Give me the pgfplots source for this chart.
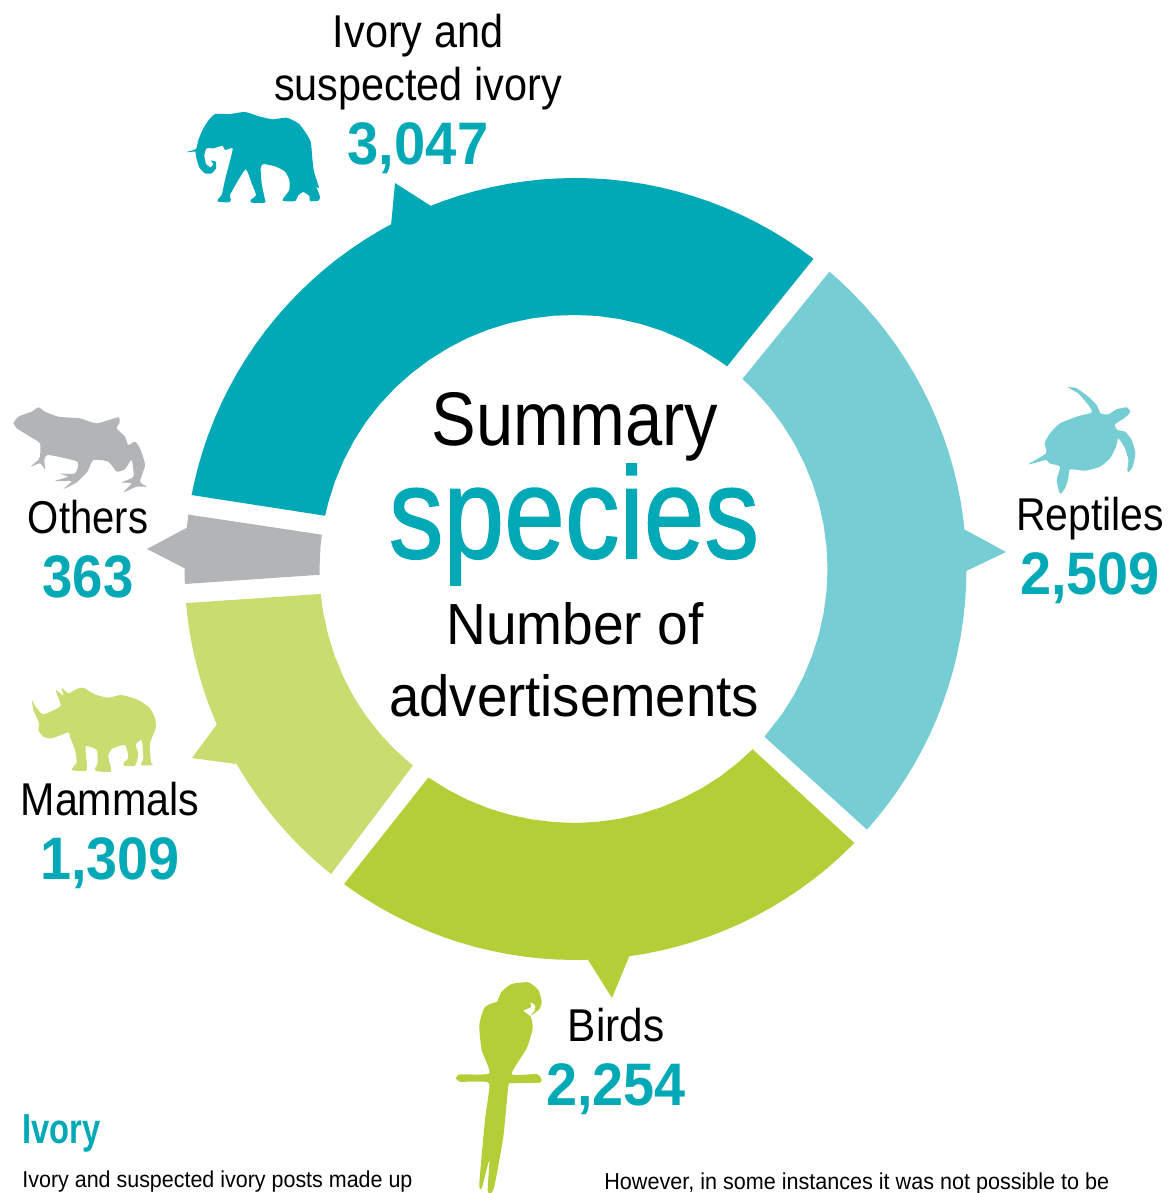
\documentclass[border=0pt]{standalone}
\usepackage{graphicx}
\usepackage{fontspec}
\setmainfont{Liberation Sans}
\newfontfamily\med[FakeBold=1.2]{Liberation Sans}
\usepackage{pgfplots}
\pgfplotsset{compat=1.18}
\definecolor{cIvory}{HTML}{00A9B5}
\definecolor{cRept}{HTML}{76CDD3}
\definecolor{cBird}{HTML}{B3CE37}
\definecolor{cMamm}{HTML}{C9DC70}
\definecolor{cOther}{HTML}{B3B4B6}
\newcommand{\T}[3]{\scalebox{#2}[1]{\fontsize{#1}{#1}\selectfont #3}}
\newcommand{\M}[3]{\scalebox{#2}[1]{\fontsize{#1}{#1}\selectfont\med #3}}
\newcommand{\B}[3]{\scalebox{#2}[1]{\fontsize{#1}{#1}\selectfont\bfseries #3}}
\pgfplotsset{
  base/.style={hide axis, at={(0,0)}, anchor=south west, scale only axis, width=584.5pt, height=596.5pt, clip=false},
  sec/.style={fill=#1, draw=none, no markers, data cs=polar},
  sil/.style n args={3}{fill=#1, draw=none, no markers, smooth, tension=0.35,
     x filter/.expression={x/3+#2}, y filter/.expression={y/3+#3}},
  tri/.style={fill=#1, draw=none, no markers}
}
\begin{document}
\begin{tikzpicture}
\path[use as bounding box, clip] (0,0) rectangle (584.5pt,596.5pt);
% ring, centred on the origin of this axis
\begin{axis}[base, xmin=-575.5, xmax=593.5, ymin=-624, ymax=569]
\addplot[sec=cIvory] coordinates {(169.1,391)(167.5,391)(165,391)(162.5,391)(160,391)(157.5,391)(155,391)(152.5,391)(150,391)(147.5,391)(145,391)(142.5,391)(140,391)(137.5,391)(135,391)(132.5,391)(130,391)(127.5,391)(125,391)(122.5,391)(120,391)(117.5,391)(115,391)(112.5,391)(110,391)(107.5,391)(105,391)(102.5,391)(100,391)(97.5,391)(95,391)(92.5,391)(90,391)(87.5,391)(85,391)(82.5,391)(80,391)(77.5,391)(75,391)(72.5,391)(70,391)(67.5,391)(65,391)(62.5,391)(60,391)(57.5,391)(55,391)(52.5,391)
 (53.2,253)(55,253)(60,253)(65,253.2)(70,253.4)(75,253.6)(80,253.8)(85,254)(90,254)(95,254.2)(100,254.4)(105,254.6)(110,254.8)(115,255)(120,255)(125,255.2)(130,255.4)(135,255.6)(140,255.8)(145,256)(150,256)(155,256)(160,256)(165,256)(168,256)};
\addplot[sec=cRept] coordinates {(49.5,391)(47.5,391)(45,391)(42.5,391)(40,391)(37.5,391)(35,391)(32.5,391)(30,391)(27.5,391)(25,391)(22.5,391)(20,391)(17.5,391)(15,391)(12.5,391)(10,391)(7.5,391)(5,391)(2.5,391)(0,391)(-2.5,391)(-5,391)(-7.5,391)(-10,391)(-12.5,391)(-15,391)(-17.5,391)(-20,391)(-22.5,391)(-25,391)(-27.5,391)(-30,391)(-32.5,391)(-35,391)(-37.5,391)(-40,391)(-41.8,391)
 (-41.6,252.6)(-35,252.4)(-30,252.2)(-25,252)(-20,252)(-15,252)(-10,252)(-5,252)(0,252)(5,252)(10,252)(15,252)(20,252)(25,252)(30,252.2)(35,252.4)(40,252.6)(45,252.8)(48.7,253)};
\addplot[sec=cBird] coordinates {(-44.5,391)(-47.5,391)(-50,391)(-52.5,391)(-55,391)(-57.5,391)(-60,391)(-62.5,391)(-65,391)(-67.5,391)(-70,391)(-72.5,391)(-75,391)(-77.5,391)(-80,391)(-82.5,391)(-85,391)(-87.5,391)(-90,391)(-92.5,391)(-95,391)(-97.5,391)(-100,391)(-102.5,391)(-105,391)(-107.5,391)(-110,391)(-112.5,391)(-115,391)(-117.5,391)(-120,391)(-122.5,391)(-125,391)(-126.3,391)
 (-125.2,255.2)(-120,255)(-115,254.8)(-110,254.6)(-105,254.4)(-100,254.2)(-95,254)(-90,254)(-85,253.8)(-80,253.6)(-75,253.4)(-70,253.2)(-65,253)(-60,253)(-55,252.9)(-50,252.8)(-45.5,252.7)};
\addplot[sec=cMamm] coordinates {(-128.7,391)(-130,391)(-132.5,391)(-135,391)(-137.5,391)(-140,391)(-142.5,391)(-145,391)(-147.5,391)(-150,391)(-152.5,391)(-155,391)(-157.5,391)(-160,391)(-162.5,391)(-165,391)(-167.5,391)(-170,391)(-172.5,391)(-175,391)
 (-174.4,256)(-170,256)(-165,256)(-160,256)(-155,256)(-150,256)(-145,255.8)(-140,255.6)(-135,255.4)(-129.6,255.2)};
\addplot[sec=cOther] coordinates {(-177.8,391)(-180,391)(-182.5,391)(-185,391)(-188,391)(-187.7,256)(-185,256)(-180,256)(-178.7,256)};
\end{axis}
% pointers, silhouettes and text, in the picture's pixels
\begin{axis}[base, xmin=0, xmax=1169, ymin=0, ymax=1193, y dir=reverse]
\addplot[tri=cIvory] coordinates {(391,226)(395,183)(431,206)(420,225)};
\addplot[tri=cRept] coordinates {(960,527)(1006,552)(960,574)};
\addplot[tri=cBird] coordinates {(585,955)(612,998)(631,952)};
\addplot[tri=cMamm] coordinates {(220,720)(192,758)(236,764)};
\addplot[tri=cOther] coordinates {(190,526)(147,549)(190,571)};
% elephant
\addplot[sil={cIvory}{170}{90}] coordinates {(52,185)(78,177)(85,150)(100,115)(118,88)(136,72)(180,72)(225,66)(270,80)(310,88)(350,83)(385,100)(405,125)(422,155)(427,205)(432,245)(447,293)(438,290)(445,305)(450,322)(445,332)(420,333)(418,318)(400,306)(385,316)(375,333)(340,333)(340,325)(358,300)(358,270)(345,245)(318,230)(280,222)(272,235)(275,280)(285,330)(285,338)(245,338)(242,330)(258,315)(245,280)(228,238)(205,270)(180,315)(183,330)(175,337)(145,335)(143,328)(155,315)(165,270)(178,220)(188,175)(165,180)(158,167)(130,175)(110,175)(103,195)(108,222)(122,232)(130,222)(122,212)(137,215)(138,235)(125,250)(105,250)(88,232)(78,200)(76,185)(52,187)};
% turtle
\addplot[sil={cRept}{1010}{375}] coordinates {(172,36)(200,40)(235,65)(260,90)(272,115)(295,118)(320,103)(350,97)(361,110)(345,128)(315,148)(322,165)(345,170)(365,195)(376,235)(368,275)(356,291)(352,285)(355,255)(345,220)(325,190)(318,215)(300,250)(270,275)(225,287)(180,283)(175,310)(165,340)(150,356)(140,315)(150,275)(118,265)(108,255)(55,268)(108,235)(104,205)(120,175)(150,145)(200,125)(245,112)(235,90)(205,55)};
% frog
\addplot[sil={cOther}{0}{395}] coordinates {(40,85)(55,65)(95,50)(115,37)(135,50)(175,65)(240,70)(290,85)(355,67)(358,85)(350,100)(375,125)(385,150)(405,140)(420,160)(435,210)(420,260)(440,275)(410,275)(370,292)(395,265)(365,262)(400,245)(395,195)(375,222)(350,230)(325,200)(280,195)(262,230)(230,262)(190,282)(215,258)(165,258)(205,245)(180,236)(225,235)(232,200)(145,180)(133,195)(135,222)(120,205)(92,215)(115,195)(120,185)(120,145)(90,125)(50,100)};
% rhino
\addplot[sil={cMamm}{15}{675}] coordinates {(50,73)(62,95)(85,118)(135,95)(133,75)(122,45)(145,62)(140,38)(160,55)(185,42)(205,38)(225,50)(245,60)(280,68)(320,60)(370,75)(405,100)(420,130)(422,160)(405,205)(408,262)(414,270)(378,270)(385,250)(380,195)(362,210)(370,235)(360,272)(328,272)(325,265)(340,248)(330,210)(290,222)(280,245)(288,290)(245,288)(240,280)(248,265)(245,225)(212,215)(215,285)(170,285)(185,262)(180,225)(165,185)(160,172)(110,190)(85,185)(70,165)(72,145)(55,105)};
% parrot
\addplot[sil={cBird}{440}{970}] coordinates {(172,95)(185,65)(215,42)(265,37)(295,60)(305,95)(298,118)(272,137)(285,120)(285,105)(272,97)(272,112)(250,122)(272,140)(278,175)(260,235)(215,312)(290,312)(303,325)(300,338)(215,340)(205,350)(190,500)(165,640)(155,668)(143,662)(148,570)(125,655)(118,640)(135,450)(148,342)(110,335)(60,335)(48,325)(60,313)(148,310)(125,240)(118,165)(132,115)(150,102)};
% labels
\node[anchor=base] at (axis cs:418,48) {\T{23pt}{.90}{Ivory and}};
\node[anchor=base] at (axis cs:418,101) {\T{23pt}{.90}{suspected ivory}};
\node[anchor=base, text=cIvory] at (axis cs:418,164) {\B{30pt}{.936}{3,047}};
\node[anchor=base] at (axis cs:1090,530) {\T{23pt}{.89}{Reptiles}};
\node[anchor=base, text=cIvory] at (axis cs:1090,594) {\B{30pt}{.93}{2,509}};
\node[anchor=base] at (axis cs:616,1041) {\T{23pt}{.92}{Birds}};
\node[anchor=base, text=cIvory] at (axis cs:616,1105) {\B{30pt}{.93}{2,254}};
\node[anchor=base] at (axis cs:110,815) {\T{23pt}{.896}{Mammals}};
\node[anchor=base, text=cIvory] at (axis cs:110,879) {\B{30pt}{.93}{1,309}};
\node[anchor=base] at (axis cs:88,533) {\T{23pt}{.87}{Others}};
\node[anchor=base, text=cIvory] at (axis cs:88,597) {\B{30pt}{.91}{363}};
\node[anchor=base] at (axis cs:575,445) {\T{38pt}{.88}{Summary}};
\node[anchor=base, text=cIvory] at (axis cs:574,558) {\M{65pt}{.84}{species}};
\node[anchor=base] at (axis cs:575,644) {\T{29pt}{.95}{Number of}};
\node[anchor=base] at (axis cs:574,716) {\T{29pt}{.94}{advertisements}};
\node[anchor=base west, inner sep=0pt, text=cIvory] at (axis cs:22,1143) {\B{21pt}{.78}{Ivory}};
\node[anchor=base west, inner sep=0pt] at (axis cs:22,1187) {\T{11.5pt}{.933}{Ivory and suspected ivory posts made up}};
\node[anchor=base west, inner sep=0pt] at (axis cs:604,1189) {\T{11.5pt}{.938}{However, in some instances it was not possible to be}};
\end{axis}
\end{tikzpicture}
\end{document}
